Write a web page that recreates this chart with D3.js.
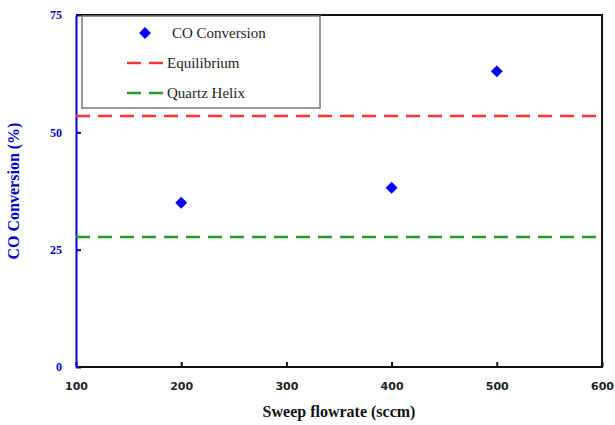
<!DOCTYPE html>
<html>
<head>
<meta charset="utf-8">
<script src="https://cdn.jsdelivr.net/npm/d3@7"></script>
<style>
  body { margin: 0; background: #fff; }
  text { font-family: "Liberation Serif", "Times New Roman", serif; }
</style>
</head>
<body>
<script>
var flowrates = [200, 400, 500];
var conversion = [35, 38.2, 63];
var equilibrium = 53.5;
var quartzHelix = 27.7;
var xTicks = [100, 200, 300, 400, 500, 600];
var yTicks = [0, 25, 50, 75];

var margin = { top: 15, right: 13, bottom: 58, left: 76 },
    width = 615 - margin.left - margin.right,
    height = 425 - margin.top - margin.bottom;

var svg = d3.select("body")
            .append("svg")
            .attr('width', 615)
            .attr('height', 425)
            .append("g")
            .attr('transform', "translate(" + margin.left + "," + margin.top + ")");

var xScale = d3.scaleLinear().domain([100, 600]).range([0, width]);
var yScale = d3.scaleLinear().domain([0, 75]).range([height, 0]);

// frame: top/right/bottom black
svg.append("path")
   .attr('d', "M0,0H" + width + "V" + height + "H0")
   .attr('fill', "none")
   .attr('stroke', "#111")
   .attr('stroke-width', 2);

// x axis, ticks pointing inward
var xAxis = d3.axisBottom(xScale).tickValues(xTicks).tickSizeInner(-5).tickSizeOuter(0).tickPadding(15);
var gx = svg.append("g")
   .attr('transform', "translate(0," + height + ")")
   .call(xAxis);
gx.select(".domain").remove();
gx.selectAll("line").attr('stroke', "#111").attr('stroke-width', 2);
gx.selectAll("text")
  .attr('fill', "#222")
  .style('font-size', "11px")
  .style('font-weight', "bold")
  .style('font-family', "DejaVu Sans, sans-serif");

// y axis in blue
var yAxis = d3.axisLeft(yScale).tickValues(yTicks).tickSizeInner(-5).tickSizeOuter(0).tickPadding(14);
var gy = svg.append("g").call(yAxis);
gy.select(".domain").attr('stroke', "#0000cc").attr('stroke-width', 2);
gy.selectAll("line").attr('stroke', "#0000cc").attr('stroke-width', 2);
gy.selectAll("text")
  .attr('fill', "#0000cc")
  .style('font-size', "12px")
  .style('font-weight', "bold")
  .style('font-family', "Liberation Serif, serif");

// reference lines
svg.append("line")
   .attr('x1', 0).attr('x2', width - 4)
   .attr('y1', yScale(equilibrium)).attr('y2', yScale(equilibrium))
   .attr('stroke', "#ff3333").attr('stroke-width', 2.5)
   .attr('stroke-dasharray', "14,8");

svg.append("line")
   .attr('x1', 0).attr('x2', width - 4)
   .attr('y1', yScale(quartzHelix)).attr('y2', yScale(quartzHelix))
   .attr('stroke', "#229922").attr('stroke-width', 2.5)
   .attr('stroke-dasharray', "14,8");

// data points
var diamond = d3.symbol().type(d3.symbolDiamond2).size(90);
svg.selectAll("path.pt")
   .data(flowrates)
   .enter()
   .append("path")
   .attr('class', "pt")
   .attr('d', diamond)
   .attr('transform', function(d, i){ return "translate(" + xScale(d) + "," + yScale(conversion[i]) + ")"; })
   .attr('fill', "#0000ff");

// legend
var lg = svg.append("g").attr('transform', "translate(6,1)");
lg.append("rect")
  .attr('width', 238).attr('height', 92)
  .attr('fill', "#fff")
  .attr('stroke', "#777").attr('stroke-width', 1.5);
lg.append("path")
  .attr('d', d3.symbol().type(d3.symbolDiamond2).size(90))
  .attr('transform', "translate(63,17)")
  .attr('fill', "#0000ff");
lg.append("line")
  .attr('x1', 45).attr('x2', 84).attr('y1', 47).attr('y2', 47)
  .attr('stroke', "#ff3333").attr('stroke-width', 2.5)
  .attr('stroke-dasharray', "14,8");
lg.append("line")
  .attr('x1', 45).attr('x2', 84).attr('y1', 77).attr('y2', 77)
  .attr('stroke', "#229922").attr('stroke-width', 2.5)
  .attr('stroke-dasharray', "14,8");
var labels = ["CO Conversion", "Equilibrium", "Quartz Helix"];
var lx = [90, 85, 85];
lg.selectAll("text.lab")
  .data(labels)
  .enter()
  .append("text")
  .attr('class', "lab")
  .attr('x', function(d, i){ return lx[i]; })
  .attr('y', function(d, i){ return 17 + 30 * i; })
  .attr('dy', "0.35em")
  .style('font-size', "15px")
  .attr('fill', "#222")
  .text(function(d){ return d; });

// axis titles
svg.append("text")
   .attr('x', width / 2)
   .attr('y', height + 50)
   .attr('text-anchor', "middle")
   .attr('fill', "#111")
   .style('font-size', "16px")
   .style('font-weight', "bold")
   .text("Sweep flowrate (sccm)");

svg.append("text")
   .attr('transform', "translate(-57," + (height / 2) + ") rotate(-90)")
   .attr('text-anchor', "middle")
   .attr('fill', "#0000cc")
   .style('font-size', "16px")
   .style('font-weight', "bold")
   .text("CO Conversion (%)");
</script>
</body>
</html>
